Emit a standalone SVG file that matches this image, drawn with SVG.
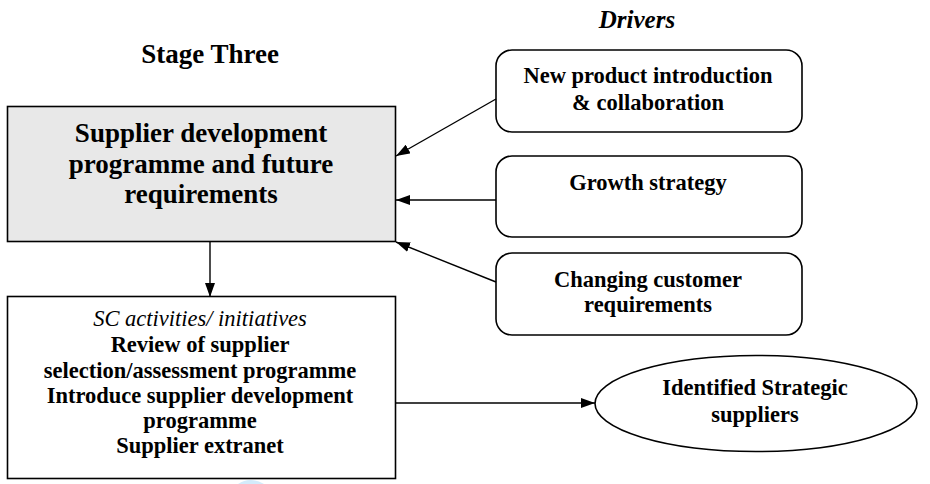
<svg xmlns="http://www.w3.org/2000/svg" width="930" height="484" viewBox="0 0 930 484">
<defs>
<style>
text{font-family:"Liberation Serif","Times New Roman",serif;fill:#000;text-anchor:middle}
.b{font-weight:bold}
.big{font-size:27px}
.md{font-size:22.5px}
.it{font-style:italic}
.box{stroke:#000;stroke-width:1.6;fill:#fff}
.line{stroke:#000;stroke-width:1.4;fill:none;marker-end:url(#ah)}
</style>
<marker id="ah" viewBox="0 0 14 10" refX="14" refY="5" markerWidth="14" markerHeight="10" markerUnits="userSpaceOnUse" orient="auto">
<path d="M0,0 L14,5 L0,10 Z" fill="#000"/>
</marker>
</defs>
<rect width="930" height="484" fill="#fff"/>
<path d="M238,484 Q250,476 264,484 Z" fill="#d3ebfb"/>
<g id="title">
<text class="b big" x="210" y="63">Stage Three</text>
</g>
<g id="drivers-label">
<text class="b it" style="font-size:25px" x="637" y="28">Drivers</text>
</g>
<g id="supplier-dev">
<rect class="box" x="7.5" y="106.5" width="388" height="135" style="fill:#e8e8e8"/>
<text class="b big" x="201" y="142">Supplier development</text>
<text class="b big" x="201" y="173">programme and future</text>
<text class="b big" x="201" y="203">requirements</text>
</g>
<g id="new-product">
<rect class="box" x="496" y="50" width="306" height="82" rx="16"/>
<text class="b md" x="648" y="83">New product introduction</text>
<text class="b md" x="648" y="110">&amp; collaboration</text>
</g>
<g id="growth">
<rect class="box" x="496" y="156" width="306" height="81" rx="16"/>
<text class="b md" x="648" y="190">Growth strategy</text>
</g>
<g id="changing">
<rect class="box" x="496" y="253" width="306" height="82" rx="16"/>
<text class="b md" x="648" y="287">Changing customer</text>
<text class="b md" x="648" y="312">requirements</text>
</g>
<g id="sc-activities">
<rect class="box" x="7.5" y="296.5" width="388" height="182"/>
<text class="it md" x="200" y="326">SC activities/ initiatives</text>
<text class="b md" x="200" y="352">Review of supplier</text>
<text class="b md" x="200" y="378">selection/assessment programme</text>
<text class="b md" x="200" y="403">Introduce supplier development</text>
<text class="b md" x="200" y="428">programme</text>
<text class="b md" x="200" y="453">Supplier extranet</text>
</g>
<g id="strategic">
<ellipse class="box" cx="756" cy="403.5" rx="161" ry="48"/>
<text class="b md" x="755" y="395">Identified Strategic</text>
<text class="b md" x="755" y="422">suppliers</text>
</g>
<g id="connectors">
<line class="line" x1="496" y1="99" x2="396" y2="156"/>
<line class="line" x1="496" y1="200" x2="396" y2="200"/>
<line class="line" x1="496" y1="282" x2="396" y2="242"/>
<line class="line" x1="210" y1="242" x2="210" y2="297"/>
<line class="line" x1="396" y1="403" x2="595" y2="403"/>
</g>
</svg>
